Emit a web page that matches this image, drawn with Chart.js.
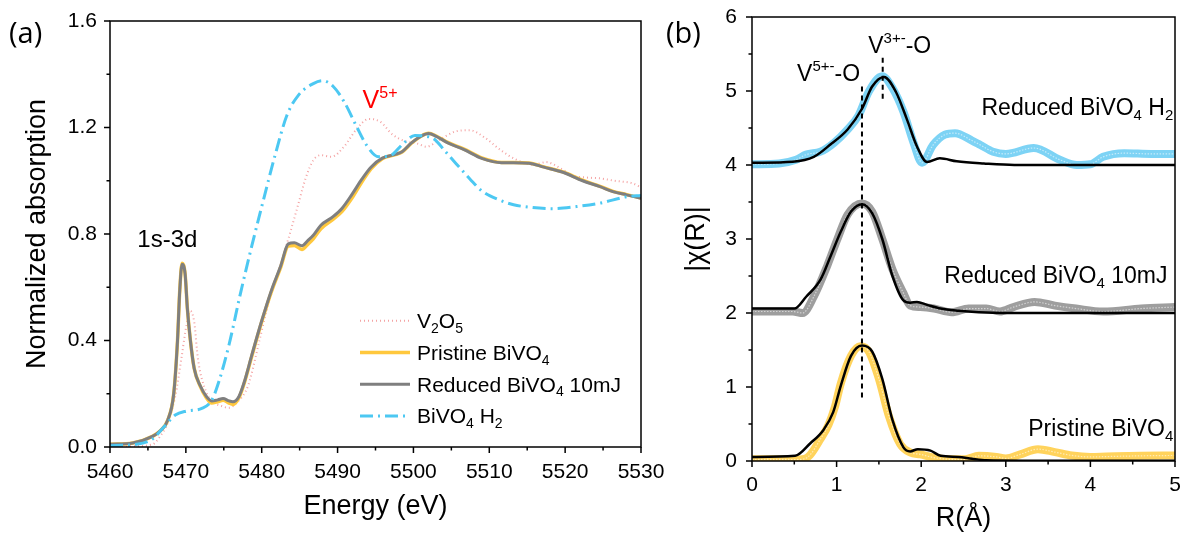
<!DOCTYPE html>
<html>
<head>
<meta charset="utf-8">
<script src="https://cdn.jsdelivr.net/npm/chart.js@4.4.0/dist/chart.umd.min.js"></script>
<style>
html, body { margin:0; padding:0; background:#fff; overflow:hidden; }
#wrapA { position:absolute; left:0; top:0; width:680px; height:535px; }
#wrapB { position:absolute; left:655px; top:0; width:527px; height:535px; }
</style>
</head>
<body>
<div id="wrapA"><canvas id="xanes" width="680" height="535"></canvas></div>
<div id="wrapB"><canvas id="exafs" width="527" height="535"></canvas></div>
<script>
// (a) XANES
const xanesEnergy = [5460, 5463, 5465.6, 5466.6, 5467.6, 5468.4, 5468.9, 5469.2, 5469.5, 5469.9, 5470.2, 5470.6, 5471.1, 5471.9, 5472.7, 5473.4, 5474.2, 5474.9, 5475.7, 5476.2, 5477, 5477.7, 5478.7, 5480, 5481.3, 5482.5, 5483.5, 5484.3, 5485.3, 5486.1, 5486.8, 5487.8, 5489.4, 5490.6, 5491.9, 5493.2, 5494.4, 5495.9, 5497.5, 5498.5, 5499.7, 5501, 5502, 5503, 5504.6, 5506.6, 5509.1, 5511.6, 5513.2, 5515.2, 5517.2, 5519.7, 5522.3, 5524.6, 5526.3, 5528.1, 5530];
const reducedAbs = [0.01, 0.015, 0.04, 0.06, 0.10, 0.20, 0.40, 0.59, 0.686, 0.65, 0.52, 0.40, 0.295, 0.23, 0.19, 0.173, 0.177, 0.182, 0.173, 0.17, 0.19, 0.244, 0.346, 0.474, 0.59, 0.68, 0.763, 0.767, 0.756, 0.776, 0.795, 0.833, 0.865, 0.897, 0.949, 1.006, 1.051, 1.085, 1.098, 1.109, 1.141, 1.167, 1.177, 1.167, 1.141, 1.118, 1.083, 1.068, 1.068, 1.066, 1.051, 1.032, 1.0, 0.978, 0.959, 0.947, 0.934];
const pristineAbs = [0.01, 0.015, 0.04, 0.06, 0.10, 0.20, 0.40, 0.59, 0.69, 0.65, 0.52, 0.40, 0.295, 0.228, 0.185, 0.165, 0.17, 0.176, 0.165, 0.16, 0.185, 0.24, 0.342, 0.47, 0.585, 0.675, 0.755, 0.757, 0.742, 0.762, 0.782, 0.82, 0.855, 0.885, 0.935, 0.995, 1.045, 1.083, 1.097, 1.108, 1.14, 1.167, 1.178, 1.168, 1.143, 1.12, 1.085, 1.069, 1.069, 1.067, 1.052, 1.033, 1.002, 0.979, 0.96, 0.948, 0.935];
const v2o5Energy = [5460, 5463, 5465.6, 5466.6, 5467.6, 5468.6, 5469.4, 5470.1, 5470.6, 5471.1, 5471.6, 5472.7, 5473.7, 5474.7, 5475.7, 5476.7, 5478.2, 5479.7, 5480.8, 5482.3, 5483.8, 5484.8, 5485.8, 5486.8, 5487.8, 5489.2, 5490.9, 5492.4, 5494.1, 5495.6, 5497.3, 5499, 5500.5, 5501.7, 5503.5, 5505.5, 5507.4, 5509.5, 5511.5, 5513.5, 5515.8, 5517.5, 5519.5, 5521, 5522.8, 5524.6, 5526.5, 5528.9, 5530];
const v2o5Abs = [0.0, 0.003, 0.01, 0.04, 0.09, 0.19, 0.33, 0.46, 0.51, 0.47, 0.33, 0.205, 0.167, 0.154, 0.147, 0.167, 0.23, 0.40, 0.53, 0.667, 0.81, 0.91, 1.01, 1.077, 1.096, 1.09, 1.13, 1.19, 1.232, 1.222, 1.172, 1.148, 1.14, 1.128, 1.155, 1.185, 1.19, 1.16, 1.115, 1.08, 1.06, 1.07, 1.045, 1.02, 1.012, 1.009, 1.0, 0.99, 0.975];
const h2Energy = [5460, 5463.5, 5465.6, 5467.1, 5468.6, 5470.1, 5472.1, 5473.4, 5474.4, 5475.7, 5477.2, 5478.7, 5480.3, 5481.8, 5483.3, 5484.8, 5486.8, 5488, 5489.4, 5490.9, 5492.4, 5493.9, 5495.4, 5497, 5498.5, 5500.2, 5501.5, 5502.8, 5504.2, 5505.6, 5507.5, 5509.1, 5511.3, 5513.2, 5515.5, 5518.4, 5521.5, 5524.6, 5528.1, 5530];
const h2Abs = [0.005, 0.01, 0.03, 0.075, 0.12, 0.135, 0.145, 0.175, 0.25, 0.385, 0.577, 0.756, 0.936, 1.10, 1.244, 1.32, 1.365, 1.376, 1.355, 1.295, 1.21, 1.13, 1.09, 1.095, 1.135, 1.17, 1.168, 1.155, 1.11, 1.065, 1.005, 0.96, 0.928, 0.91, 0.9, 0.895, 0.903, 0.916, 0.94, 0.945];
const energyTicks = [5460, 5530, 10];
const absTicks = [0, 1.6, 0.4];

// (b) EXAFS, curves already offset by 0 / 2 / 4
const rPristineData = [0, 0.3, 0.52, 0.62, 0.685, 0.80, 0.905, 0.98, 1.05, 1.17, 1.28, 1.38, 1.50, 1.62, 1.75, 1.87, 1.99, 2.15, 2.36, 2.52, 2.68, 2.89, 3.0, 3.17, 3.38, 3.58, 3.78, 4.0, 4.19, 4.6, 5.0];
const chiPristineData = [0.023, 0.022, 0.02, 0.03, 0.08, 0.28, 0.49, 0.73, 1.05, 1.42, 1.55, 1.48, 1.11, 0.60, 0.23, 0.115, 0.09, 0.046, 0.023, 0.023, 0.07, 0.055, 0.035, 0.09, 0.16, 0.12, 0.075, 0.055, 0.06, 0.07, 0.075];
const rPristineFit = [0, 0.51, 0.69, 0.845, 0.96, 1.05, 1.17, 1.30, 1.42, 1.54, 1.66, 1.79, 1.87, 1.96, 2.11, 2.23, 2.44, 2.60, 2.77, 3.2, 5.0];
const chiPristineFit = [0.055, 0.07, 0.24, 0.42, 0.66, 1.02, 1.42, 1.56, 1.48, 1.11, 0.555, 0.185, 0.13, 0.16, 0.14, 0.07, 0.055, 0.03, 0.01, 0.005, 0.005];
const rReducedData = [0, 0.48, 0.6, 0.73, 0.89, 1.01, 1.13, 1.30, 1.42, 1.54, 1.66, 1.79, 1.87, 1.99, 2.15, 2.36, 2.56, 2.77, 2.93, 3.09, 3.34, 3.58, 3.83, 4.15, 4.6, 5.0];
const chiReducedData = [2.02, 2.02, 2.0, 2.22, 2.64, 3.0, 3.33, 3.48, 3.37, 3.0, 2.59, 2.27, 2.10, 2.08, 2.06, 2.01, 2.06, 2.06, 2.02, 2.08, 2.15, 2.10, 2.06, 2.02, 2.06, 2.08];
const rReducedFit = [0, 0.5, 0.64, 0.81, 0.93, 1.05, 1.17, 1.30, 1.42, 1.54, 1.66, 1.79, 1.87, 1.95, 2.07, 2.23, 2.44, 2.68, 3.0, 5.0];
const chiReducedFit = [2.06, 2.06, 2.22, 2.45, 2.77, 3.10, 3.37, 3.47, 3.35, 3.0, 2.50, 2.17, 2.14, 2.15, 2.11, 2.06, 2.03, 2.01, 2.0, 2.0];
const rH2Data = [0, 0.32, 0.52, 0.64, 0.81, 0.97, 1.13, 1.26, 1.38, 1.54, 1.66, 1.79, 1.91, 2.01, 2.14, 2.28, 2.40, 2.60, 2.70, 2.85, 3.0, 3.33, 3.64, 3.84, 4.0, 4.15, 4.40, 4.72, 5.0];
const chiH2Data = [4.01, 4.02, 4.07, 4.14, 4.18, 4.30, 4.48, 4.67, 4.99, 5.20, 5.04, 4.72, 4.30, 4.03, 4.27, 4.41, 4.43, 4.33, 4.27, 4.18, 4.15, 4.23, 4.07, 4.0, 4.01, 4.11, 4.16, 4.15, 4.15];
const rH2Fit = [0, 0.48, 0.73, 0.93, 1.13, 1.30, 1.42, 1.56, 1.70, 1.83, 1.95, 2.07, 2.22, 2.42, 2.74, 3.1, 5.0];
const chiH2Fit = [4.03, 4.045, 4.11, 4.28, 4.48, 4.76, 5.06, 5.19, 4.99, 4.62, 4.25, 4.04, 4.09, 4.05, 4.02, 4.0, 4.0];
const rTicks = [0, 5, 1];
const chiTicks = [0, 6, 1];
// dashed guide lines: R, chi from, chi to
const guideLines = [[1.3, 0.83, 5.06], [1.545, 4.84, 5.45]];

const FONT = "'Liberation Sans', Arial, sans-serif";

function pairs(xs, ys) {
    return xs.map((x, i) => ({x: x, y: ys[i]}));
}

// text with sub / superscripts, parts: [text, 0 normal | 1 sup | -1 sub]
function richText(ctx, parts, x, y, size, align, color) {
    const small = Math.round(size * 0.65);
    let total = 0;
    parts.forEach(p => {
        ctx.font = (p[1] ? small : size) + "px " + FONT;
        total += ctx.measureText(p[0]).width;
    });
    let cx = align === "right" ? x - total : x;
    ctx.fillStyle = color || "#000";
    ctx.textBaseline = "alphabetic";
    ctx.textAlign = "left";
    parts.forEach(p => {
        ctx.font = (p[1] ? small : size) + "px " + FONT;
        const dy = p[1] === 1 ? -size * 0.4 : (p[1] === -1 ? size * 0.22 : 0);
        ctx.fillText(p[0], cx, y + dy);
        cx += ctx.measureText(p[0]).width;
    });
}

// box + outward major/minor ticks
const frameTicks = {
    id: "frameTicks",
    afterDraw(chart) {
        const ctx = chart.ctx, a = chart.chartArea;
        const xs = chart.scales.x, ys = chart.scales.y;
        ctx.save();
        ctx.strokeStyle = "#000";
        ctx.lineWidth = 1.5;
        ctx.strokeRect(a.left, a.top, a.right - a.left, a.bottom - a.top);
        ctx.beginPath();
        const xv = xs.ticks.map(t => t.value);
        xv.forEach((v, i) => {
            const p = xs.getPixelForValue(v);
            ctx.moveTo(p, a.bottom); ctx.lineTo(p, a.bottom + 6);
            if (i < xv.length - 1) {
                const m = xs.getPixelForValue((v + xv[i + 1]) / 2);
                ctx.moveTo(m, a.bottom); ctx.lineTo(m, a.bottom + 3.5);
            }
        });
        const yv = ys.ticks.map(t => t.value);
        yv.forEach((v, i) => {
            const p = ys.getPixelForValue(v);
            ctx.moveTo(a.left, p); ctx.lineTo(a.left - 6, p);
            if (i < yv.length - 1) {
                const m = ys.getPixelForValue((v + yv[i + 1]) / 2);
                ctx.moveTo(a.left, m); ctx.lineTo(a.left - 3.5, m);
            }
        });
        ctx.stroke();
        ctx.restore();
    }
};

function axis(lim, pad, fmt, title, titlePad, size) {
    return {
        type: "linear", min: lim[0], max: lim[1],
        ticks: { stepSize: lim[2], padding: pad, color: "#000", font: {family: FONT, size: 21},
                 autoSkip: false, maxRotation: 0, callback: fmt },
        grid: { display: false, drawTicks: false },
        border: { display: false },
        title: { display: true, text: title, color: "#000", font: {family: FONT, size: 27}, padding: titlePad },
        afterFit(s) {
            if (s.isHorizontal()) { s.height = size; s.paddingLeft = 0; s.paddingRight = 0; }
            else { s.width = size; s.paddingTop = 0; s.paddingBottom = 0; }
        }
    };
}

// panel (a) annotations and legend
const panelA = {
    id: "panelA",
    afterDraw(chart) {
        const ctx = chart.ctx, a = chart.chartArea;
        const xs = chart.scales.x, ys = chart.scales.y;
        ctx.save();
        ctx.font = "29px 'Open Sans', 'Noto Sans', sans-serif";
        ctx.fillStyle = "#000";
        ctx.fillText("(a)", 9, 43);
        richText(ctx, [["1s-3d", 0]], xs.getPixelForValue(5463.6), ys.getPixelForValue(0.752), 24, "left");
        richText(ctx, [["V", 0], ["5+", 1]], xs.getPixelForValue(5493.3), ys.getPixelForValue(1.273), 25, "left", "#ff0000");

        const rows = [
            [["V", 0], ["2", -1], ["O", 0], ["5", -1]],
            [["Pristine BiVO", 0], ["4", -1]],
            [["Reduced BiVO", 0], ["4", -1], [" 10mJ", 0]],
            [["BiVO", 0], ["4", -1], [" H", 0], ["2", -1]]
        ];
        rows.forEach((row, i) => {
            const ds = chart.data.datasets[i];
            const base = a.top + 307.3 + i * 31.7;
            ctx.beginPath();
            ctx.strokeStyle = ds.borderColor;
            ctx.lineWidth = ds.borderWidth;
            ctx.setLineDash(ds.borderDash || []);
            ctx.moveTo(a.left + 250, base - 7.5);
            ctx.lineTo(a.left + 300, base - 7.5);
            ctx.stroke();
            ctx.setLineDash([]);
            richText(ctx, row, a.left + 307, base, 21, "left");
        });
        ctx.restore();
    }
};

// panel (b) annotations
const panelB = {
    id: "panelB",
    afterDraw(chart) {
        const ctx = chart.ctx;
        const xs = chart.scales.x, ys = chart.scales.y;
        ctx.save();
        ctx.font = "29px 'Open Sans', 'Noto Sans', sans-serif";
        ctx.fillStyle = "#000";
        ctx.fillText("(b)", 11, 43);
        ctx.strokeStyle = "#000";
        ctx.lineWidth = 2;
        ctx.setLineDash([5, 4]);
        guideLines.forEach(g => {
            const px = xs.getPixelForValue(g[0]);
            ctx.beginPath();
            ctx.moveTo(px, ys.getPixelForValue(g[2]));
            ctx.lineTo(px, ys.getPixelForValue(g[1]));
            ctx.stroke();
        });
        ctx.setLineDash([]);
        richText(ctx, [["V", 0], ["5+-", 1], ["-O", 0]], xs.getPixelForValue(1.277), ys.getPixelForValue(5.14), 23, "right");
        richText(ctx, [["V", 0], ["3+-", 1], ["-O", 0]], xs.getPixelForValue(1.374), ys.getPixelForValue(5.52), 23, "left");
        richText(ctx, [["Reduced BiVO", 0], ["4", -1], [" H", 0], ["2", -1]], xs.getPixelForValue(4.98), ys.getPixelForValue(4.67), 23, "right");
        richText(ctx, [["Reduced BiVO", 0], ["4", -1], [" 10mJ", 0]], xs.getPixelForValue(4.91), ys.getPixelForValue(2.41), 23, "right");
        richText(ctx, [["Pristine BiVO", 0], ["4", -1]], xs.getPixelForValue(4.98), ys.getPixelForValue(0.333), 23, "right");
        ctx.restore();
    }
};

new Chart(document.getElementById("xanes"), {
    type: "line",
    data: {
        datasets: [
            { label: "V2O5", data: pairs(v2o5Energy, v2o5Abs), borderColor: "#F4A3A3", borderWidth: 2, borderDash: [1, 3], order: 3 },
            { label: "Pristine BiVO4", data: pairs(xanesEnergy, pristineAbs), borderColor: "#FFC83D", borderWidth: 3.5, order: 2 },
            { label: "Reduced BiVO4 10mJ", data: pairs(xanesEnergy, reducedAbs), borderColor: "#7F7F7F", borderWidth: 3, order: 1 },
            { label: "BiVO4 H2", data: pairs(h2Energy, h2Abs), borderColor: "#4CC8F2", borderWidth: 3, borderDash: [13, 5, 2, 5], order: 0 }
        ]
    },
    options: {
        responsive: false, animation: false, devicePixelRatio: 1,
        layout: { padding: { left: 0, top: 21, right: 39, bottom: 0 } },
        elements: { point: { radius: 0 }, line: { cubicInterpolationMode: "monotone" } },
        plugins: { legend: { display: false }, tooltip: { enabled: false } },
        scales: {
            x: axis(energyTicks, 12.5, v => String(v), "Energy (eV)", { top: 0, bottom: 12 }, 88),
            y: axis(absTicks, 13, v => v.toFixed(1), "Normalized absorption", { top: 21, bottom: 0 }, 110)
        }
    },
    plugins: [frameTicks, panelA]
});

const band = (col) => ({ borderColor: col, borderWidth: 8, order: 2 });
const dots = { borderColor: "rgba(255,255,255,0.55)", borderWidth: 1.2, borderDash: [1.5, 1.5], order: 1 };
const fit = { borderColor: "#000", borderWidth: 2.5, order: 0 };

new Chart(document.getElementById("exafs"), {
    type: "line",
    data: {
        datasets: [
            Object.assign({ label: "H2 data", data: pairs(rH2Data, chiH2Data) }, band("#7DD3F5")),
            Object.assign({ label: "H2 dots", data: pairs(rH2Data, chiH2Data) }, dots),
            Object.assign({ label: "H2 fit", data: pairs(rH2Fit, chiH2Fit) }, fit),
            Object.assign({ label: "10mJ data", data: pairs(rReducedData, chiReducedData) }, band("#9E9E9E")),
            Object.assign({ label: "10mJ dots", data: pairs(rReducedData, chiReducedData) }, dots),
            Object.assign({ label: "10mJ fit", data: pairs(rReducedFit, chiReducedFit) }, fit),
            Object.assign({ label: "Pristine data", data: pairs(rPristineData, chiPristineData) }, band("#FFD35C")),
            Object.assign({ label: "Pristine dots", data: pairs(rPristineData, chiPristineData) }, dots),
            Object.assign({ label: "Pristine fit", data: pairs(rPristineFit, chiPristineFit) }, fit)
        ]
    },
    options: {
        responsive: false, animation: false, devicePixelRatio: 1,
        layout: { padding: { left: 0, top: 17, right: 7, bottom: 0 } },
        elements: { point: { radius: 0 }, line: { cubicInterpolationMode: "monotone" } },
        plugins: { legend: { display: false }, tooltip: { enabled: false } },
        scales: {
            x: axis(rTicks, 12, v => String(v), "R(Å)", { top: 0, bottom: 0 }, 74),
            y: axis(chiTicks, 15, v => String(v), "|χ(R)|", { top: 25, bottom: 0 }, 97)
        }
    },
    plugins: [frameTicks, panelB]
});
</script>
</body>
</html>
